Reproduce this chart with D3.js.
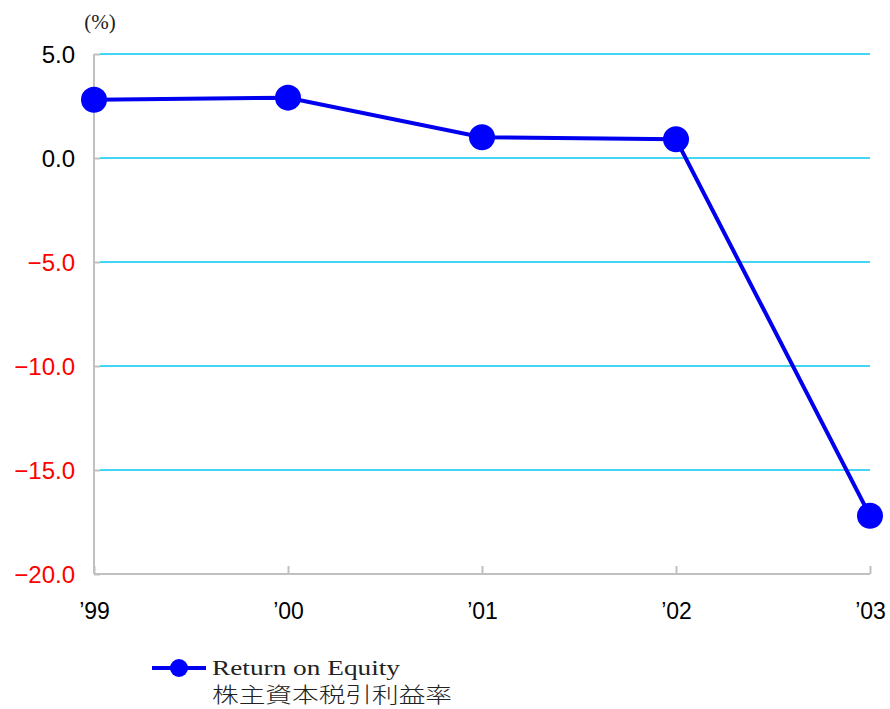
<!DOCTYPE html>
<html><head><meta charset="utf-8">
<script src="https://cdn.jsdelivr.net/npm/d3@7/dist/d3.min.js"></script>
<style>body{margin:0;background:#fff}svg{display:block}</style>
</head><body>
<svg id="c" width="890" height="709"></svg>
<script>
const categories = ["\u201999","\u201900","\u201901","\u201902","\u201903"];
const roeValues = [2.8, 2.9, 1.0, 0.9, -17.2];
const yTicks = [5, 0, -5, -10, -15, -20];

const svg = d3.select("#c");
const x = d3.scalePoint().domain(categories).range([94, 870]);
const y = d3.scaleLinear().domain([-20, 5]).range([574, 54]);
const labelFont = "'Liberation Sans', Arial, sans-serif";

// gridlines
svg.append("g").selectAll("line").data(yTicks.filter(d => d !== -20)).join("line")
  .attr("x1", 100).attr("x2", 870)
  .attr("y1", d => y(d)).attr("y2", d => y(d))
  .attr("stroke", "#00c8f0").attr("stroke-width", 1.5);

// y axis
const yAxis = d3.axisLeft(y).tickValues(yTicks).tickSize(6).tickFormat(d => d.toFixed(1));
const gy = svg.append("g").attr("transform", "translate(94,0)").call(yAxis);
gy.select(".domain").attr("stroke", "#c0c0c0").attr("stroke-width", 2).attr("d", "M0,54V574");
gy.selectAll(".tick line").attr("stroke", "#c0c0c0").attr("stroke-width", 2).attr("x2", 6);
gy.selectAll(".tick text").attr("x", -19).attr("dy", "0.36em")
  .attr("font-family", labelFont).attr("font-size", 24)
  .attr("fill", d => d < 0 ? "#ff0000" : "#000")
  .text(d => (d < 0 ? "\u2212" + Math.abs(d).toFixed(1) : d.toFixed(1)));

// x axis
const xAxis = d3.axisBottom(x).tickSize(0);
const gx = svg.append("g").attr("transform", "translate(0,574)").call(xAxis);
gx.select(".domain").attr("stroke", "#c0c0c0").attr("stroke-width", 2).attr("d", "M94,0H870");
gx.selectAll(".tick line").attr("stroke", "#c0c0c0").attr("stroke-width", 2).attr("y1", 0).attr("y2", -8);
gx.selectAll(".tick text").attr("y", 45).attr("dy", 0)
  .attr("font-family", labelFont).attr("font-size", 23).attr("fill", "#000");

// unit label
svg.append("text").attr("x", 100).attr("y", 29).attr("text-anchor", "middle")
  .attr("font-family", "'Liberation Serif', serif").attr("font-size", 21).attr("fill", "#222").text("(%)");

// line
const line = d3.line().x((d, i) => x(categories[i])).y(d => y(d));
svg.append("path").datum(roeValues).attr("d", line)
  .attr("fill", "none").attr("stroke", "#0000ee").attr("stroke-width", 4);
svg.append("g").selectAll("circle").data(roeValues).join("circle")
  .attr("cx", (d, i) => x(categories[i])).attr("cy", d => y(d)).attr("r", 13)
  .attr("fill", "#0000ff");

// legend
const lg = svg.append("g");
lg.append("line").attr("x1", 152).attr("x2", 206).attr("y1", 668).attr("y2", 668)
  .attr("stroke", "#0000ee").attr("stroke-width", 4);
lg.append("circle").attr("cx", 179).attr("cy", 668).attr("r", 9).attr("fill", "#0000ff");
lg.append("text").attr("x", 212).attr("y", 675)
  .attr("font-family", "'Liberation Serif', serif").attr("font-size", 20).attr("fill", "#222")
  .attr("textLength", 188).attr("lengthAdjust", "spacingAndGlyphs")
  .text("Return on Equity");
lg.append("text").attr("x", 212).attr("y", 702)
  .attr("font-family", "'Noto Sans CJK JP', sans-serif").attr("font-size", 21).attr("font-weight", 300).attr("fill", "#222")
  .attr("textLength", 240).attr("lengthAdjust", "spacingAndGlyphs")
  .text("株主資本税引利益率");
</script>
</body></html>
